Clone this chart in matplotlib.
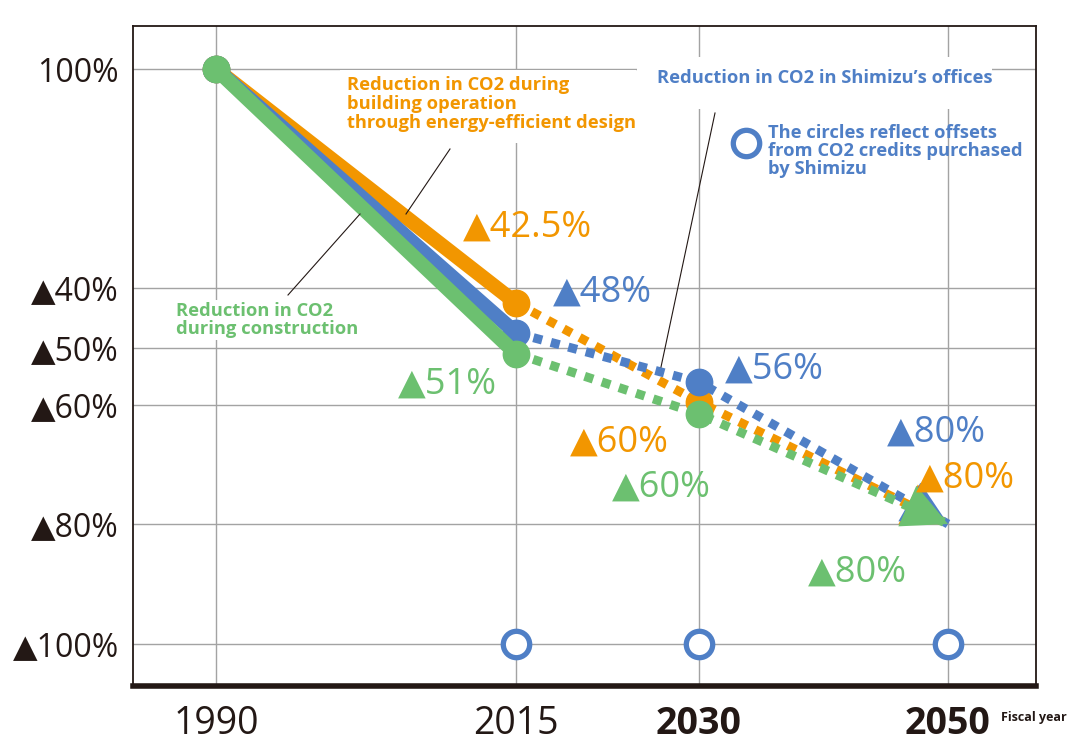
import numpy as np
import matplotlib
matplotlib.use('Agg')
import matplotlib.pyplot as plt
from matplotlib.patches import Rectangle

matplotlib.rcParams['font.family'] = ['Open Sans', 'DejaVu Sans']

# data: CO2 reduction (%) vs 1990, by fiscal year
years = [1990, 2015, 2030, 2050]
operation = [0, 42.5, 59.5, 80]      # building operation (orange)
offices = [0, 47.5, 56, 80]          # Shimizu's offices (blue)
construction = [0, 51, 61.5, 80]     # during construction (green)
offset_years = [2015, 2030, 2050]
offset_level = [100, 100, 100]

op_labels = ['42.5%', '60%', '80%']
off_labels = ['48%', '56%', '80%']
con_labels = ['51%', '60%', '80%']

ytick_vals = [0, 40, 50, 60, 80, 100]
ytick_labels = ['100%', '▲40%', '▲50%', '▲60%', '▲80%', '▲100%']
ytick_pos = [0, 219, 279, 336, 455, 575]   # uneven spacing of the original axis
xtick_pos = [0, 300, 483, 732]
xtick_labels = ['1990', '2015', '2030', '2050']

c_orange = '#F29600'
c_blue = '#4F7FC6'
c_green = '#6CC070'
c_dark = '#231815'
c_grid = '#A3A3A3'

W, H = 1080, 754


def px(x, y):
    return x / W, 1 - y / H


kv = [-20] + ytick_vals + [120]
kp = [-115] + ytick_pos + [690]
xv = [1970] + years + [2070]
xp = [-240] + xtick_pos + [980]


def fwd(v):
    return np.interp(v, kv, kp)


def inv(p):
    return np.interp(p, kp, kv)


def xfwd(v):
    return np.interp(v, xv, xp)


def xinv(p):
    return np.interp(p, xp, xv)


fig = plt.figure(figsize=(W / 100, H / 100), dpi=100)
ax = fig.add_axes([133 / W, 1 - 686 / H, (1036 - 133) / W, (686 - 26) / H])
ax.set_yscale('function', functions=(fwd, inv))
ax.set_xscale('function', functions=(xfwd, xinv))
ax.set_xlim(xinv(133 - 216), xinv(1036 - 216))
ax.set_ylim(inv(617), inv(-43))

ax.set_yticks(ytick_vals, ytick_labels, fontsize=23, color=c_dark)
ax.set_xticks(years, xtick_labels, fontsize=27, color=c_dark)
for lab in ax.get_xticklabels()[2:]:
    lab.set_fontweight('bold')
ax.tick_params(length=0)
ax.tick_params(axis='y', pad=10)
ax.tick_params(axis='x', pad=14)
ax.minorticks_off()
ax.grid(True, color=c_grid, lw=1.0)
ax.set_axisbelow(True)
for s in ['left', 'top', 'right']:
    ax.spines[s].set_color(c_dark)
    ax.spines[s].set_linewidth(1.3)
ax.spines['bottom'].set_color(c_dark)
ax.spines['bottom'].set_linewidth(4)

# white boxes behind the annotation texts (they cut the grid)
for (x0, y0, x1, y1) in [(340, 70, 636, 143), (637, 57, 992, 109), (170, 300, 362, 340)]:
    ax.add_patch(Rectangle(px(x0, y1), (x1 - x0) / W, (y1 - y0) / H, transform=fig.transFigure,
                           facecolor='white', edgecolor='none', zorder=1.5))

series = [(operation, c_orange), (offices, c_blue), (construction, c_green)]
for i, (vals, c) in enumerate(series):
    z = 3 + i
    ax.plot(years[:2], vals[:2], color=c, lw=10.5, solid_capstyle='butt', zorder=z)
    ax.plot(years[1:], vals[1:], color=c, lw=6.5, ls=(0, (1, 1)), dash_capstyle='butt', zorder=z)
    ax.plot(years[:3], vals[:3], 'o', color=c, ms=19, zorder=z)
    ax.annotate('', xy=(years[3], vals[3]), xytext=(years[2], vals[2]),
                arrowprops=dict(arrowstyle='-|>,head_length=3.2,head_width=1.6', mutation_scale=10,
                                color=c, lw=0, shrinkA=0, shrinkB=0), zorder=z + 0.5)

ax.plot(offset_years, offset_level, 'o', ms=19, mfc='white', mec=c_blue, mew=3.8, zorder=6, clip_on=False)

# value labels
lab_pos = {
    c_orange: [(463, 228), (570, 443), (916, 479)],
    c_blue: [(553, 293), (725, 370), (887, 433)],
    c_green: [(398, 385), (612, 488), (808, 573)],
}
for labels, c in [(op_labels, c_orange), (off_labels, c_blue), (con_labels, c_green)]:
    for lab, (x, y) in zip(labels, lab_pos[c]):
        fig.text(*px(x, y), '▲' + lab, color=c, fontsize=26, ha='left', va='center', zorder=8)

# annotations
fs = 13.2
fig.text(*px(347, 104), 'Reduction in CO2 during\nbuilding operation\nthrough energy-efficient design',
         color=c_orange, fontsize=fs, fontweight='bold', ha='left', va='center', linespacing=1.05)
fig.text(*px(176, 320), 'Reduction in CO2\nduring construction',
         color=c_green, fontsize=fs, fontweight='bold', ha='left', va='center', linespacing=1.05)
fig.text(*px(657, 78), 'Reduction in CO2 in Shimizu’s offices',
         color=c_blue, fontsize=fs, fontweight='bold', ha='left', va='center')
fig.text(*px(768, 151), 'The circles reflect offsets\nfrom CO2 credits purchased\nby Shimizu',
         color=c_blue, fontsize=fs, fontweight='bold', ha='left', va='center', linespacing=0.97)
ax.plot(*px(746, 143), 'o', ms=19, mfc='white', mec=c_blue, mew=3.8,
        transform=fig.transFigure, zorder=8, clip_on=False)

for (x0, y0, x1, y1) in [(450, 149, 406, 214), (360, 214, 288, 295), (715, 113, 661, 367)]:
    ax.plot([x0 / W, x1 / W], [1 - y0 / H, 1 - y1 / H], color=c_dark, lw=0.8,
            transform=fig.transFigure, zorder=7, clip_on=False)

fig.text(*px(1001, 718), 'Fiscal year', color=c_dark, fontsize=9, fontweight='bold', ha='left', va='center')

fig.savefig('out.png', dpi=100)
